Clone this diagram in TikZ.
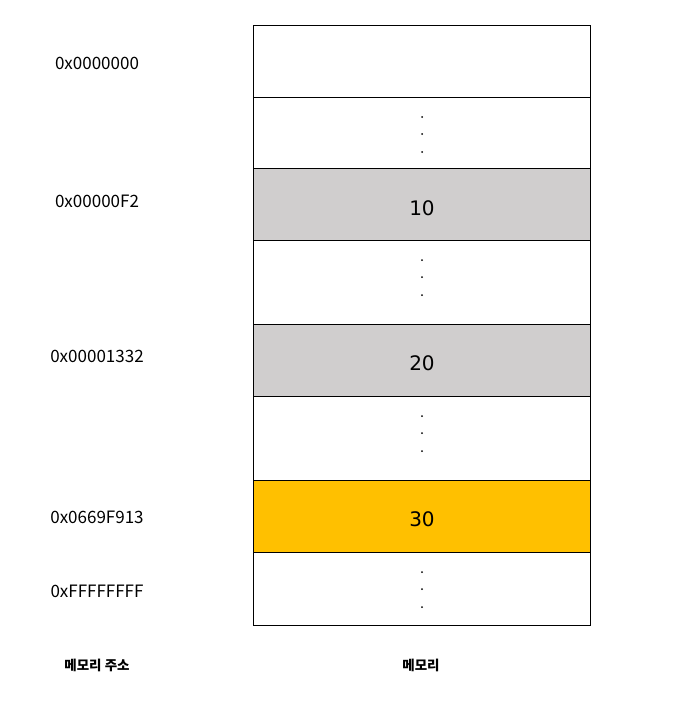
\documentclass[tikz,border=0pt]{standalone}
\usepackage{fontspec}
\setmainfont{Noto Sans CJK KR}
\newfontfamily\numfont{DejaVu Sans}

\begin{document}
\begin{tikzpicture}[x=1pt, y=-1pt]
    \def\cellLeft{253}
    \def\cellWidth{337}
    \def\addrX{97}

    \definecolor{borderColour}{HTML}{000000}
    \definecolor{greyFill}{HTML}{D0CECE}
    \definecolor{orangeFill}{HTML}{FFC000}

    \tikzset{
        cell/.style={draw=borderColour, line width=1pt, minimum width=\cellWidth pt, inner sep=0pt, anchor=north west},
        addr/.style={font=\fontsize{17}{19}\selectfont, inner sep=0pt},
        caption/.style={font=\fontsize{13.5}{16}\selectfont\bfseries, inner sep=0pt},
        value/.style={font=\numfont\fontsize{20}{22}\selectfont, inner sep=0pt}
    }

    \useasboundingbox (0,0) rectangle (685,726);

    % Draw memory cells
    \foreach \name/\top/\height/\colour in {c1/25/72/white, c2/97/71/white, c3/168/72/greyFill, c4/240/84/white,
                                            c5/324/72/greyFill, c6/396/84/white, c7/480/72/orangeFill, c8/552/73/white}
        \node[cell, fill=\colour, minimum height=\height pt] (\name) at (\cellLeft,\top) {};

    % Values stored in memory
    \node[value] (v10) at ([yshift=-4pt]c3.center) {10};
    \node[value] (v20) at ([yshift=-3pt]c5.center) {20};
    \node[value] (v30) at ([yshift=-3pt]c7.center) {30};

    % Vertical dots
    \foreach \name in {c2,c4,c6,c8}
        \foreach \dy in {20,37,55}
            \fill[borderColour] ([yshift=-\dy pt]\name.north) circle (1pt);

    % Addresses
    \node[addr] (a1) at (\addrX,63) {0x0000000};
    \node[addr] (a2) at (\addrX,201) {0x00000F2};
    \node[addr] (a3) at (\addrX,356) {0x00001332};
    \node[addr] (a4) at (\addrX,517) {0x0669F913};
    \node[addr] (a5) at (\addrX,591) {0xFFFFFFFF};

    % Captions
    \node[caption] (addrCaption) at (\addrX,665) {메모리 주소};
    \node[caption] (memCaption) at (421,665) {메모리};

\end{tikzpicture}
\end{document}
